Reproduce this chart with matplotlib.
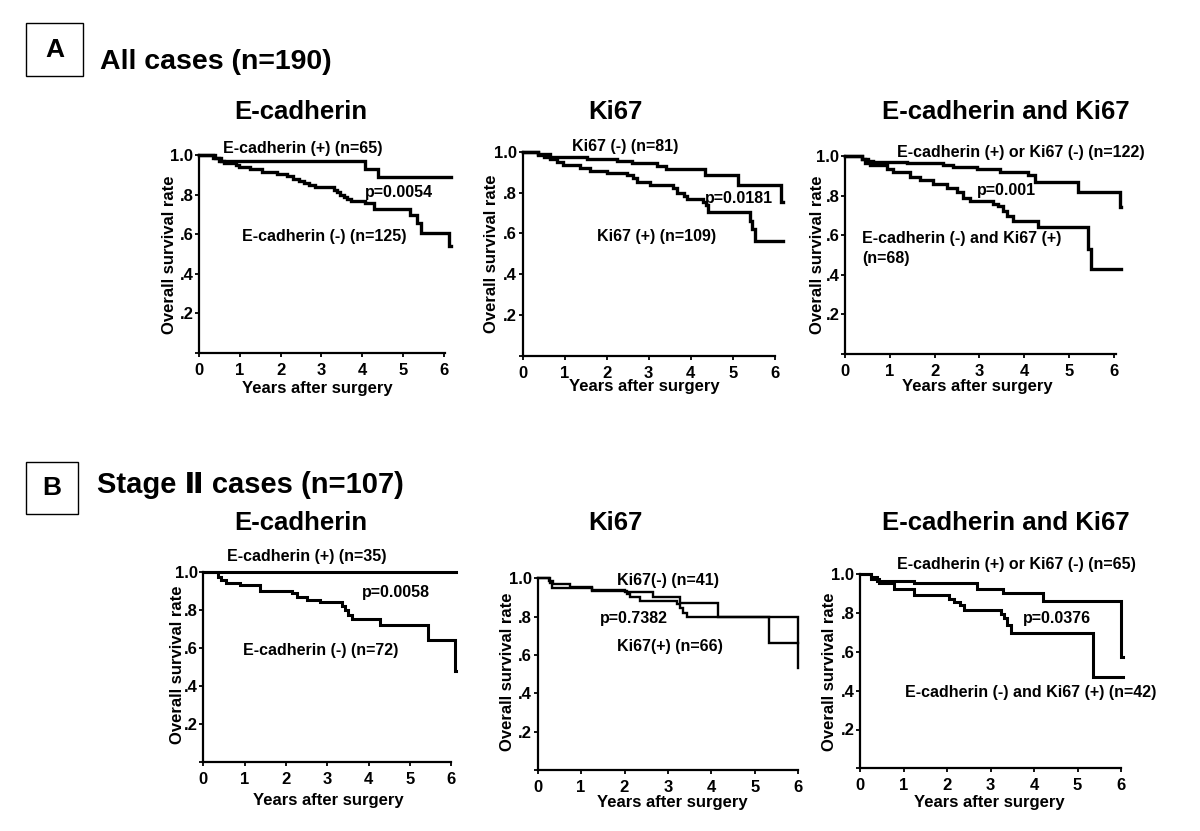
import matplotlib
matplotlib.use("Agg")
import matplotlib.pyplot as plt
from matplotlib.patches import Rectangle

plt.rcParams['font.family'] = ['Liberation Sans', 'DejaVu Sans']
plt.rcParams['font.weight'] = 'bold'

W, H = 1200, 831

# ---------------- data (years, survival) ----------------
years_ticks = [0, 1, 2, 3, 4, 5, 6]
surv_ticks = [0.2, 0.4, 0.6, 0.8, 1.0]
surv_tick_labels = ['.2', '.4', '.6', '.8', '1.0']

# A: All cases (n=190)
A1_pos_t = [0, 0.35, 0.55, 4.07, 4.39]
A1_pos_s = [1.0, 0.985, 0.97, 0.928, 0.89]
A1_neg_t = [0, 0.38, 0.5, 0.62, 0.9, 0.98, 1.25, 1.55, 1.9, 2.15, 2.3, 2.45, 2.58, 2.7,
            2.84, 3.3, 3.38, 3.46, 3.55, 3.62, 3.72, 4.07, 4.3, 5.17, 5.35, 5.44, 6.12]
A1_neg_s = [1.0, 0.985, 0.97, 0.958, 0.95, 0.94, 0.927, 0.915, 0.905, 0.895, 0.88, 0.868,
            0.857, 0.846, 0.836, 0.825, 0.812, 0.80, 0.79, 0.78, 0.77, 0.756, 0.727, 0.697,
            0.655, 0.604, 0.54]
A1_end = 6.17

A2_neg_t = [0, 0.37, 0.65, 1.52, 2.24, 2.6, 3.19, 3.4, 4.34, 5.13, 6.15]
A2_neg_s = [1.0, 0.99, 0.975, 0.965, 0.955, 0.945, 0.93, 0.915, 0.885, 0.837, 0.755]
A2_pos_t = [0, 0.37, 0.5, 0.65, 0.81, 0.97, 1.37, 1.6, 2.0, 2.48, 2.63, 2.71, 3.03, 3.59,
            3.67, 3.83, 3.9, 4.3, 4.36, 4.42, 5.41, 5.45, 5.53]
A2_pos_s = [1.0, 0.985, 0.975, 0.965, 0.95, 0.935, 0.92, 0.905, 0.895, 0.885, 0.87, 0.85,
            0.835, 0.82, 0.80, 0.785, 0.77, 0.755, 0.74, 0.705, 0.66, 0.62, 0.565]
A2_end = 6.19

A3_good_t = [0, 0.37, 0.52, 0.63, 1.38, 2.19, 2.42, 2.94, 3.46, 4.09, 4.24, 5.2, 6.13]
A3_good_s = [1.0, 0.985, 0.975, 0.97, 0.965, 0.955, 0.945, 0.936, 0.921, 0.904, 0.87, 0.82, 0.744]
A3_bad_t = [0, 0.37, 0.45, 0.56, 0.93, 1.08, 1.45, 1.67, 1.97, 2.27, 2.49, 2.64, 2.79, 3.31,
            3.42, 3.53, 3.61, 3.75, 4.31, 5.43, 5.5]
A3_bad_s = [1.0, 0.985, 0.965, 0.955, 0.935, 0.92, 0.895, 0.88, 0.86, 0.84, 0.82, 0.79, 0.775,
            0.76, 0.745, 0.72, 0.695, 0.67, 0.64, 0.53, 0.43]
A3_end = 6.17

# B: Stage II cases (n=107)
B1_pos_t = [0]
B1_pos_s = [1.0]
B1_neg_t = [0, 0.36, 0.44, 0.56, 0.89, 1.37, 2.14, 2.26, 2.5, 2.82, 3.35, 3.43, 3.51, 3.59,
            4.27, 5.45, 6.09]
B1_neg_s = [1.0, 0.974, 0.956, 0.942, 0.93, 0.90, 0.886, 0.869, 0.851, 0.839, 0.82, 0.80,
            0.773, 0.75, 0.72, 0.641, 0.48]
B1_end = 6.12

B2_neg_t = [0, 0.25, 0.36, 0.74, 1.24, 2.01, 2.66, 3.28, 4.16, 6.0]
B2_neg_s = [1.0, 0.986, 0.97, 0.957, 0.939, 0.93, 0.904, 0.87, 0.797, 0.66]
B2_pos_t = [0, 0.28, 0.32, 1.24, 2.05, 2.13, 2.36, 3.2, 3.28, 3.35, 3.43, 5.32, 6.0]
B2_pos_s = [1.0, 0.977, 0.951, 0.934, 0.917, 0.901, 0.882, 0.866, 0.843, 0.821, 0.797, 0.661, 0.53]
B2_end = 6.0

B3_good_t = [0, 0.25, 0.4, 1.25, 2.7, 3.28, 4.2, 6.0]
B3_good_s = [1.0, 0.985, 0.967, 0.955, 0.924, 0.902, 0.863, 0.576]
B3_bad_t = [0, 0.25, 0.44, 0.79, 1.25, 2.05, 2.17, 2.3, 2.4, 3.24, 3.32, 3.39, 3.47, 5.35]
B3_bad_s = [1.0, 0.974, 0.954, 0.923, 0.893, 0.873, 0.859, 0.842, 0.816, 0.795, 0.773, 0.739,
            0.696, 0.469]
B3_end = 6.04

fig = plt.figure(figsize=(W / 100, H / 100), dpi=100)


def px(x, y):
    return x / W, 1 - y / H


def make_axes(left, right, top, bottom, xmax, axis_end=6.0):
    ax = fig.add_axes([left / W, 1 - bottom / H, (right - left) / W, (bottom - top) / H])
    ax.set_xlim(0, xmax)
    ax.set_ylim(0, 1.0)
    for s in ['top', 'right']:
        ax.spines[s].set_visible(False)
    for s in ['left', 'bottom']:
        ax.spines[s].set_linewidth(1.6)
    ax.spines['bottom'].set_bounds(0, axis_end)
    ax.set_xticks(years_ticks)
    ax.set_xticklabels([str(v) for v in years_ticks], fontsize=12, fontweight='bold')
    ax.set_yticks([0] + surv_ticks)
    ax.set_yticklabels([''] + surv_tick_labels, fontsize=12, fontweight='bold')
    ax.tick_params(axis='both', length=3, width=1.3, direction='out')
    ax.tick_params(axis='y', pad=1)
    ax.tick_params(axis='x', pad=4)
    ax.patch.set_alpha(0)
    return ax


def km(ax, t, s, end, lw=2.0):
    ax.step(list(t) + [end], list(s) + [s[-1]], where='post', color='black', lw=lw,
            clip_on=False, solid_joinstyle='miter')


def label(ylab_x, ylab_y, xlab_x, xlab_y):
    fig.text(*px(ylab_x, ylab_y), 'Overall survival rate', rotation=90, ha='center',
             va='center', fontsize=12, fontweight='bold')
    fig.text(*px(xlab_x, xlab_y), 'Years after surgery', ha='center', va='center',
             fontsize=12, fontweight='bold')


def t(x, y, s, size=11.5, ha='left', **kw):
    fig.text(*px(x, y), s, ha=ha, va='center', fontsize=size, fontweight='bold', **kw)


# ---- headers ----
fig.add_artist(Rectangle(px(26, 76), 57 / W, 53 / H, transform=fig.transFigure,
                         fill=False, lw=1.0, ec='black'))
t(54.5, 50, 'A', size=19, ha='center')
t(100, 62, 'All cases (n=190)', size=20.5)
fig.add_artist(Rectangle(px(26, 514), 52 / W, 52 / H, transform=fig.transFigure,
                         fill=False, lw=1.0, ec='black'))
t(52, 488, 'B', size=19, ha='center')
t(97, 485, 'Stage Ⅱ cases (n=107)', size=21)

for cx, title in [(301, 'E-cadherin'), (615, 'Ki67'), (1006, 'E-cadherin and Ki67')]:
    t(cx, 112, title, size=18.5, ha='center')
    t(cx, 523, title, size=18.5, ha='center')

# ---- A1 ----
ax = make_axes(199, 199 + A1_end * 40.8, 155, 353, A1_end, 6.03)
km(ax, A1_pos_t, A1_pos_s, A1_end, 2.4)
km(ax, A1_neg_t, A1_neg_s, A1_end, 2.4)
label(170, 255, 317, 388)
t(223, 148, 'E-cadherin (+) (n=65)')
t(365, 192, 'p=0.0054')
t(242, 237, 'E-cadherin (-) (n=125)')

# ---- A2 ----
ax = make_axes(522.7, 522.7 + A2_end * 42.0, 151.7, 356, A2_end, 6.0)
km(ax, A2_neg_t, A2_neg_s, A2_end, 2.4)
km(ax, A2_pos_t, A2_pos_s, A2_end, 2.4)
label(492, 254, 644, 387)
t(572, 147, 'Ki67 (-) (n=81)')
t(705, 199, 'p=0.0181')
t(597, 237, 'Ki67 (+) (n=109)')

# ---- A3 ----
ax = make_axes(845, 845 + A3_end * 44.8, 156, 354, A3_end, 6.04)
km(ax, A3_good_t, A3_good_s, A3_end, 2.4)
km(ax, A3_bad_t, A3_bad_s, A3_end, 2.4)
label(817, 255, 977, 387)
t(897, 152, 'E-cadherin (+) or Ki67 (-) (n=122)')
t(977, 190, 'p=0.001')
t(862, 239, 'E-cadherin (-) and Ki67 (+)')
t(862, 258, '(n=68)')

# ---- B1 ----
ax = make_axes(203.3, 203.3 + B1_end * 41.3, 571.7, 762.3, B1_end, 6.0)
km(ax, B1_pos_t, B1_pos_s, B1_end, 2.2)
km(ax, B1_neg_t, B1_neg_s, B1_end, 2.2)
label(177, 665, 328, 800)
t(227, 557, 'E-cadherin (+) (n=35)')
t(362, 592, 'p=0.0058')
t(243, 650, 'E-cadherin (-) (n=72)')

# ---- B2 ----
ax = make_axes(537.7, 537.7 + B2_end * 43.4, 578.3, 770, B2_end, 6.0)
km(ax, B2_neg_t, B2_neg_s, B2_end, 1.7)
km(ax, B2_pos_t, B2_pos_s, B2_end, 1.7)
label(508, 672, 672, 803)
t(617, 580, 'Ki67(-) (n=41)')
t(600, 618, 'p=0.7382')
t(617, 647, 'Ki67(+) (n=66)')

# ---- B3 ----
ax = make_axes(860, 860 + B3_end * 43.5, 574.3, 768.3, B3_end, 6.0)
km(ax, B3_good_t, B3_good_s, B3_end, 2.2)
km(ax, B3_bad_t, B3_bad_s, B3_end, 2.2)
label(830, 672, 989, 802)
t(897, 565, 'E-cadherin (+) or Ki67 (-) (n=65)')
t(1023, 618, 'p=0.0376')
t(905, 692, 'E-cadherin (-) and Ki67 (+) (n=42)')

fig.savefig('out.png', dpi=100)
